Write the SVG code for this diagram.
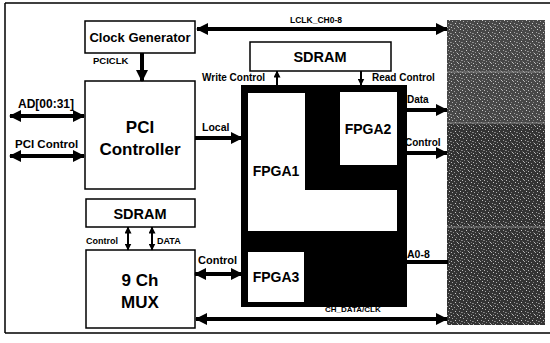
<svg xmlns="http://www.w3.org/2000/svg" width="550" height="343" viewBox="0 0 550 343">
<defs>
<style>
.box{fill:#fff;stroke:#000;stroke-width:1.5}
.t{font-family:"Liberation Sans",Arial,sans-serif;font-weight:bold;fill:#000}
.big{font-size:17px;text-anchor:middle}
.mid{font-size:14.5px;text-anchor:middle}
.w{stroke:#000;stroke-width:4;fill:none}
.n{stroke:#000;stroke-width:2;fill:none}
</style>
<marker id="ah" markerUnits="userSpaceOnUse" markerWidth="12" markerHeight="12" viewBox="0 0 12 12" refX="11" refY="6" orient="auto-start-reverse">
<path d="M0,0 L12,6 L0,12 z" fill="#000"/>
</marker>
<marker id="as" markerUnits="userSpaceOnUse" markerWidth="7" markerHeight="7" viewBox="0 0 7 7" refX="6.5" refY="3.5" orient="auto-start-reverse">
<path d="M0,0 L7,3.5 L0,7 z" fill="#000"/>
</marker>
<pattern id="noise" width="11" height="9" patternUnits="userSpaceOnUse">
<rect width="11" height="9" fill="#333"/>
<rect x="0" y="0" width="1" height="1" fill="#bbb"/>
<rect x="3" y="1" width="1" height="1" fill="#999"/>
<rect x="7" y="0" width="1" height="1" fill="#aaa"/>
<rect x="9" y="2" width="1" height="1" fill="#ccc"/>
<rect x="1" y="3" width="1" height="1" fill="#aaa"/>
<rect x="5" y="3" width="1" height="1" fill="#777"/>
<rect x="4" y="5" width="1" height="1" fill="#ccc"/>
<rect x="8" y="5" width="1" height="1" fill="#999"/>
<rect x="10" y="6" width="1" height="1" fill="#888"/>
<rect x="2" y="7" width="1" height="1" fill="#888"/>
<rect x="6" y="8" width="1" height="1" fill="#bbb"/>
<rect x="0" y="6" width="1" height="1" fill="#777"/>
<rect x="5" y="7" width="1" height="1" fill="#666"/>
<rect x="9" y="8" width="1" height="1" fill="#777"/>
</pattern>
</defs>
<rect x="0" y="0" width="550" height="343" fill="#fff"/>
<path d="M5,3 H550 M5,3 V333 M5,333 H550" stroke="#000" stroke-width="1.5" fill="none"/>

<g id="clock-generator">
<rect class="box" x="85" y="21" width="110" height="32"/>
<text class="t" x="140" y="42" font-size="13" text-anchor="middle">Clock Generator</text>
</g>
<g id="pci-controller">
<rect class="box" x="85" y="81" width="110" height="108"/>
<text class="t big" x="140" y="133">PCI</text>
<text class="t big" x="140" y="155">Controller</text>
</g>
<g id="sdram-top">
<rect class="box" x="250" y="42" width="141" height="29"/>
<text class="t mid" x="320" y="62">SDRAM</text>
</g>
<g id="fpga-block">
<rect x="241" y="85" width="166" height="222" fill="#000"/>
<path d="M248,93 H305 V190 H397 V231 H248 Z" fill="#fff"/>
<text class="t" x="276" y="176" font-size="14" text-anchor="middle">FPGA1</text>
</g>
<g id="fpga2">
<rect x="340" y="92" width="57" height="73" fill="#fff"/>
<text class="t" x="368" y="134" font-size="14" text-anchor="middle">FPGA2</text>
</g>
<g id="fpga3">
<rect x="248" y="252" width="56" height="50" fill="#fff"/>
<text class="t" x="276" y="282" font-size="14" text-anchor="middle">FPGA3</text>
</g>
<g id="sdram-bottom">
<rect class="box" x="86" y="199" width="109" height="28"/>
<text class="t mid" x="140" y="219">SDRAM</text>
</g>
<g id="mux">
<rect class="box" x="86" y="250" width="109" height="78"/>
<text class="t big" x="140" y="286">9 Ch</text>
<text class="t big" x="140" y="308">MUX</text>
</g>
<g id="decoder">
<rect x="447" y="20" width="98" height="305" fill="url(#noise)"/>
<rect x="447" y="20" width="98" height="103" fill="#fff" opacity="0.1"/>
<path d="M447,72 H545 M447,123 H545 M447,227 H545" stroke="#888" stroke-width="1"/>
</g>

<g id="connectors">
<line class="w" x1="197" y1="29" x2="447" y2="29" marker-start="url(#ah)" marker-end="url(#ah)"/>
<line class="w" x1="142" y1="53" x2="142" y2="81" stroke-width="3" marker-end="url(#ah)"/>
<line class="w" x1="10" y1="116" x2="84" y2="116" marker-start="url(#ah)" marker-end="url(#ah)"/>
<line class="w" x1="10" y1="156" x2="84" y2="156" marker-start="url(#ah)" marker-end="url(#ah)"/>
<line class="w" x1="195" y1="138" x2="242" y2="138" marker-end="url(#ah)"/>
<line class="n" x1="277" y1="85" x2="277" y2="71" marker-end="url(#as)"/>
<line class="n" x1="361" y1="71" x2="361" y2="85" marker-end="url(#as)"/>
<line class="w" x1="407" y1="110" x2="447" y2="110" marker-end="url(#ah)"/>
<line class="w" x1="407" y1="153" x2="447" y2="153" marker-end="url(#ah)"/>
<line class="w" x1="407" y1="262" x2="448" y2="262" stroke-width="3"/>
<line class="n" x1="128" y1="227" x2="128" y2="250" marker-start="url(#as)" marker-end="url(#as)"/>
<line class="n" x1="152" y1="227" x2="152" y2="250" marker-start="url(#as)" marker-end="url(#as)"/>
<line class="w" x1="195" y1="274" x2="242" y2="274" marker-start="url(#ah)" marker-end="url(#ah)"/>
<line class="w" x1="196" y1="319" x2="447" y2="319" marker-start="url(#ah)" marker-end="url(#ah)"/>
</g>

<g id="labels">
<text class="t" x="290" y="23" font-size="8.5">LCLK_CH0-8</text>
<text class="t" x="93" y="64" font-size="9.5">PCICLK</text>
<text class="t" x="18" y="108" font-size="12">AD[00:31]</text>
<text class="t" x="15" y="148" font-size="11.5">PCI Control</text>
<text class="t" x="202" y="131" font-size="10.5">Local</text>
<text class="t" x="202" y="81" font-size="10">Write Control</text>
<text class="t" x="372" y="81" font-size="10">Read Control</text>
<text class="t" x="407" y="103" font-size="10">Data</text>
<text class="t" x="405" y="146" font-size="10">Control</text>
<text class="t" x="407" y="258" font-size="10.5">A0-8</text>
<text class="t" x="86" y="244" font-size="9">Control</text>
<text class="t" x="157" y="244" font-size="9">DATA</text>
<text class="t" x="198" y="264" font-size="11">Control</text>
<text class="t" x="325" y="312" font-size="8">CH_DATA/CLK</text>
</g>
</svg>
